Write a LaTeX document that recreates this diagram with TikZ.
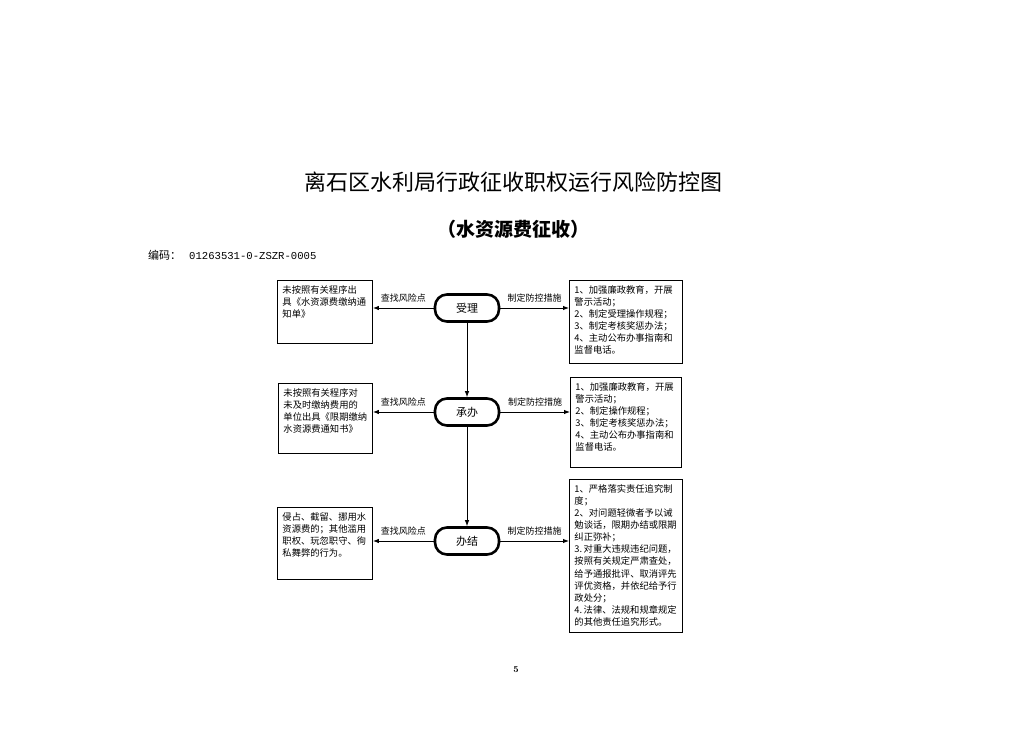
\documentclass[tikz,border=0pt]{standalone}
\usepackage{fontspec}
\newfontfamily\cjk{Noto Sans CJK SC}
\newfontfamily\codefont{Liberation Mono}
\usetikzlibrary{arrows.meta}
\tikzset{
  box/.style={draw, line width=0.9pt, anchor=north west, inner xsep=5pt, inner ysep=5pt, font=\cjk\fontsize{9.3}{12.1}\selectfont},
  stage/.style={draw, line width=2.6pt, rounded corners=12pt, minimum width=64pt, minimum height=27pt, inner sep=0pt, font=\cjk\fontsize{11}{13}\selectfont},
  conn/.style={line width=0.9pt, -{Latex[length=6pt,width=4.5pt]}},
  lbl/.style={font=\cjk\fontsize{9}{11}\selectfont, inner sep=2pt, above=3pt},
}
\newcommand{\bxt}[3]{\parbox[t][#2pt][t]{#1pt}{#3}}
\begin{document}
\begin{tikzpicture}[x=1pt,y=-1pt]
\useasboundingbox (0,0) rectangle (1033,730);
\fill[white] (0,0) rectangle (1033,730);

\node[font=\cjk\fontsize{22}{26}\selectfont] (title) at (513,182) {离石区水利局行政征收职权运行风险防控图};
\node[font=\cjk\bfseries\fontsize{19}{22}\selectfont] (sub) at (513,229) {（水资源费征收）};
\node[anchor=west, inner sep=0pt, font=\cjk\fontsize{11}{13}\selectfont] (code) at (148,255) {编码：\hspace{8pt}{\codefont\fontsize{10.6}{13}\selectfont 01263531-0-ZSZR-0005}};

% stages
\node[stage] (s1) at (467,308) {受理};
\node[stage] (s2) at (467,412) {承办};
\node[stage] (s3) at (467,541) {办结};

% left boxes
\node[box] (l1) at (277,280) {\bxt{85}{53}{未按照有关程序出\\具《水资源费缴纳通\\知单》}};
\node[box] (l2) at (278,383) {\bxt{84}{60}{未按照有关程序对\\未及时缴纳费用的\\单位出具《限期缴纳\\水资源费通知书》}};
\node[box] (l3) at (277,507) {\bxt{85}{62}{侵占、截留、挪用水\\资源费的；其他滥用\\职权、玩忽职守、徇\\私舞弊的行为。}};

% right boxes
\node[box] (r1) at (569,280) {\bxt{103}{73}{1、加强廉政教育，开展\\警示活动；\\2、制定受理操作规程；\\3、制定考核奖惩办法；\\4、主动公布办事指南和\\监督电话。}};
\node[box] (r2) at (570,377) {\bxt{101}{80}{1、加强廉政教育，开展\\警示活动；\\2、制定操作规程；\\3、制定考核奖惩办法；\\4、主动公布办事指南和\\监督电话。}};
\node[box] (r3) at (569,479) {\bxt{103}{143}{1、严格落实责任追究制\\度；\\2、对问题轻微者予以诫\\勉谈话，限期办结或限期\\纠正弥补；\\\mbox{3.\,对重大违规违纪问题，}\\按照有关规定严肃查处，\\给予通报批评、取消评先\\评优资格，并依纪给予行\\政处分；\\\mbox{4.\,法律、法规和规章规定}\\的其他责任追究形式。}};

% connectors
\draw[conn] (s1.south) -- (s2.north);
\draw[conn] (s2.south) -- (s3.north);
\draw[conn] (s1.west) -- node[lbl] {查找风险点} (s1.west -| l1.east);
\draw[conn] (s2.west) -- node[lbl] {查找风险点} (s2.west -| l2.east);
\draw[conn] (s3.west) -- node[lbl] {查找风险点} (s3.west -| l3.east);
\draw[conn] (s1.east) -- node[lbl] {制定防控措施} (s1.east -| r1.west);
\draw[conn] (s2.east) -- node[lbl] {制定防控措施} (s2.east -| r2.west);
\draw[conn] (s3.east) -- node[lbl] {制定防控措施} (s3.east -| r3.west);

\node[font=\bfseries\fontsize{9}{11}\selectfont] (page) at (516,670) {5};
\end{tikzpicture}
\end{document}
